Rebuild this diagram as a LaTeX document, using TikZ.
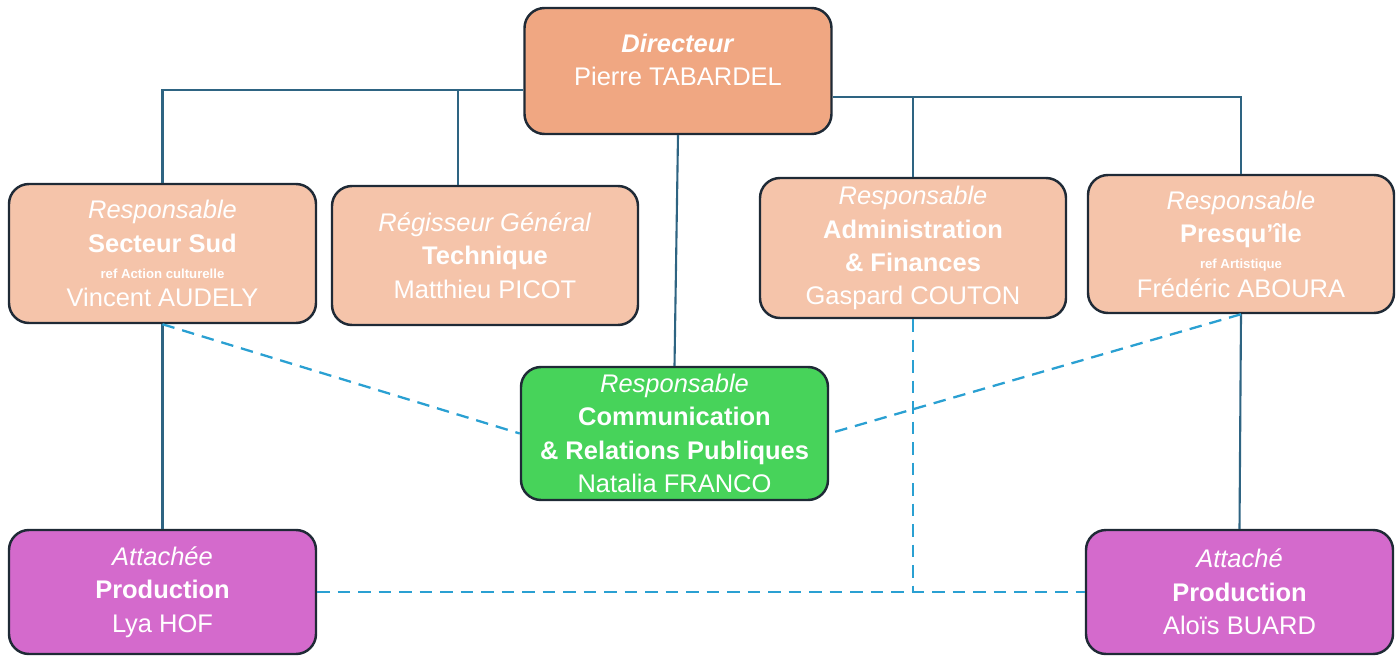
\documentclass[tikz,border=0pt]{standalone}
\usepackage{fontspec}
\setmainfont{Liberation Sans}
\usepackage{tikz}
\usepackage{xcolor}

\definecolor{dirfill}{HTML}{F0A782}
\definecolor{respfill}{HTML}{F5C4AA}
\definecolor{comfill}{HTML}{47D35A}
\definecolor{attfill}{HTML}{D46ACC}
\definecolor{edgeline}{HTML}{1F2A36}
\definecolor{treeline}{HTML}{2E6482}
\definecolor{linkline}{HTML}{2AA0D2}

\begin{document}
\begin{tikzpicture}
  \tikzset{
box/.style={draw=edgeline,
  line width=1.4pt,
  rounded corners=0.4cm,
    minimum width=6.14cm,
    text=white,
    font=\fontsize{14.5}{19}\selectfont,
    align=center},
tree/.style={draw=treeline, line width=1.2pt},
link/.style={draw=linkline, line width=1.3pt, dash pattern=on 0.25cm off 0.16cm},
}
  \useasboundingbox (0,0) rectangle (28,-13.1);

  % Nodes
  \node [box, fill=dirfill, minimum height=2.52cm] (dir) at (13.56,-1.42)
    {\textbf{\textit{Directeur}}\\Pierre TABARDEL\\[-0.22cm]};
  \node [box, fill=respfill, minimum height=2.78cm] (sud) at (3.25,-5.07)
    {\textit{Responsable}\\\textbf{Secteur Sud}\\[-4pt]{\fontsize{7.5}{9}\selectfont\textbf{ref Action culturelle}}\\[-3pt]Vincent AUDELY};
  \node [box, fill=respfill, minimum height=2.78cm, minimum width=6.12cm] (regie) at (9.7,-5.11)
    {\textit{Régisseur Général}\\\textbf{Technique}\\Matthieu PICOT};
  \node [box, fill=respfill, minimum height=2.8cm, minimum width=6.12cm, text depth=0.1cm] (admin) at (18.26,-4.96)
    {\textit{Responsable}\\\textbf{Administration}\\\textbf{\& Finances}\\Gaspard COUTON};
  \node [box, fill=respfill, minimum height=2.76cm, minimum width=6.12cm] (presq) at (24.82,-4.88)
    {\textit{Responsable}\\\textbf{Presqu’île}\\[-4pt]{\fontsize{7.5}{9}\selectfont\textbf{ref Artistique}}\\[-3pt]Frédéric ABOURA};
  \node [box, fill=comfill, minimum height=2.66cm] (comm) at (13.49,-8.67)
    {\textit{Responsable}\\\textbf{Communication}\\\textbf{\& Relations Publiques}\\Natalia FRANCO};
  \node [box, fill=attfill, minimum height=2.48cm] (lya) at (3.25,-11.84)
    {\textit{Attachée}\\\textbf{Production}\\Lya HOF};
  \node [box, fill=attfill, minimum height=2.48cm] (alois) at (24.79,-11.84)
    {\textit{Attaché}\\\textbf{Production}\\Aloïs BUARD};

  % hierarchy
  \draw [tree] ([yshift=-0.38cm]dir.west) -| (sud.north);
  \draw [tree] ([xshift=-0.54cm]regie.north) |- ([yshift=-0.38cm]dir.west);
  \draw [tree] ([yshift=-0.52cm]dir.east) -| (presq.north);
  \draw [tree] (admin.north) |- ([yshift=-0.52cm]dir.east);
  \draw [tree] (dir.south) -- (comm.north);
  \draw [tree] (sud.south) -- (lya.north);
  \draw [tree] (presq.south) -- (alois.north);

  % functional links
  \draw [link] (sud.south) -- (comm.west);
  \draw [link] (presq.south) -- (comm.east);
  \draw [link] (lya.east) -- (alois.west);
  \draw [link] (admin.south) -- (admin.south |- lya.east);
\end{tikzpicture}
\end{document}
